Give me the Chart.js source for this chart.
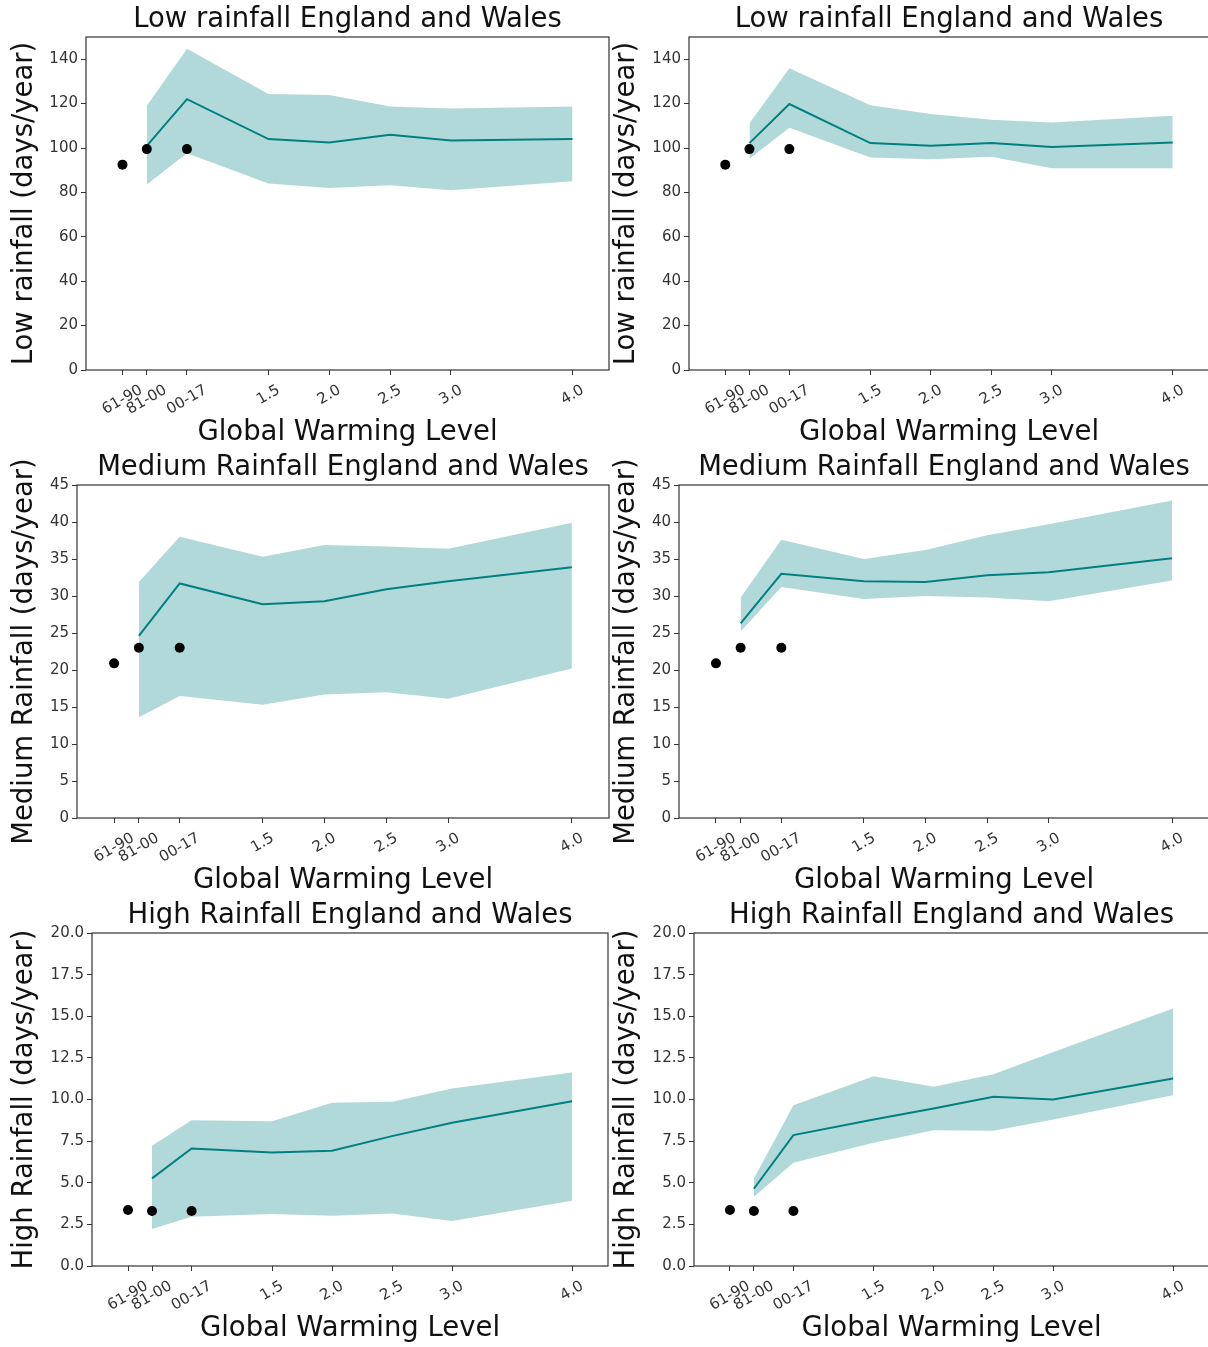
<!DOCTYPE html>
<html>
<head>
<meta charset="utf-8">
<title>Rainfall days by global warming level</title>
<script src="https://cdn.jsdelivr.net/npm/chart.js@4.4.1/dist/chart.umd.min.js"></script>
<style>
  html, body { margin: 0; padding: 0; background: #fff; overflow: hidden; }
  #figure { position: relative; width: 1208px; height: 1347px; overflow: hidden; }
  #figure canvas { position: absolute; }
</style>
</head>
<body>
<div id="figure"></div>
<script>
// -------------------- Data --------------------
const tickValues = [0.3, 0.5, 0.83, 1.5, 2.0, 2.5, 3.0, 4.0];
const tickLabels = ['61-90', '81-00', '00-17', '1.5', '2.0', '2.5', '3.0', '4.0'];
const obsX = [0.3, 0.5, 0.83];
const modelX = [0.5, 0.83, 1.5, 2.0, 2.5, 3.0, 4.0];

const lowTicks = [0, 20, 40, 60, 80, 100, 120, 140];
const medTicks = [0, 5, 10, 15, 20, 25, 30, 35, 40, 45];
const highTicks = [0, 2.5, 5, 7.5, 10, 12.5, 15, 17.5, 20];

// observed periods
const lowObs = [92.5, 99.5, 99.5];
const medObs = [20.9, 23.0, 23.0];
const highObs = [3.36, 3.3, 3.3];

// left column ensemble
const lowMeanL = [101, 122, 104, 102.5, 106, 103.4, 104];
const lowUpperL = [119, 144.7, 124.3, 123.9, 118.7, 117.8, 118.7];
const lowLowerL = [83.6, 97.6, 84, 82, 83.2, 81, 85];
const medMeanL = [24.6, 31.7, 28.9, 29.3, 30.9, 32.0, 33.9];
const medUpperL = [31.9, 38.0, 35.3, 36.9, 36.7, 36.4, 39.9];
const medLowerL = [13.6, 16.5, 15.3, 16.7, 17.0, 16.1, 20.2];
const highMeanL = [5.26, 7.06, 6.82, 6.92, 7.8, 8.6, 9.9];
const highUpperL = [7.22, 8.76, 8.7, 9.8, 9.86, 10.66, 11.62];
const highLowerL = [2.22, 2.96, 3.12, 3.02, 3.16, 2.7, 3.92];

// right column ensemble
const lowMeanR = [102.2, 119.8, 102.2, 101, 102.2, 100.4, 102.5];
const lowUpperR = [111.2, 135.9, 119.3, 115.3, 112.7, 111.5, 114.5];
const lowLowerR = [95.2, 109.1, 95.7, 94.9, 96.1, 90.9, 90.9];
const medMeanR = [26.3, 33.0, 32.0, 31.9, 32.8, 33.2, 35.1];
const medUpperR = [29.8, 37.6, 35.0, 36.2, 38.2, 39.7, 42.9];
const medLowerR = [25.2, 31.2, 29.6, 30.0, 29.8, 29.3, 32.1];
const highMeanR = [4.64, 7.86, 8.8, 9.46, 10.16, 10.0, 11.26];
const highUpperR = [5.26, 9.66, 11.4, 10.76, 11.52, 12.86, 15.46];
const highLowerR = [4.16, 6.2, 7.4, 8.16, 8.12, 8.8, 10.26];

// -------------------- Layout --------------------
const FONT = "'DejaVu Sans', sans-serif";
const TITLE_H = 37;
const XAXIS_H = 80;
const LABEL_SIZE = 27.5;
const TICK_SIZE = 15;
const TEAL = '#008080';
const BAND = 'rgba(0, 128, 128, 0.3)';

const lowTitle = 'Low rainfall England and Wales';
const medTitle = 'Medium Rainfall England and Wales';
const highTitle = 'High Rainfall England and Wales';

const panels = [
  { title: lowTitle, yTitle: 'Low rainfall (days/year)', yMax: 150, yTicks: lowTicks, digits: 0,
    obs: lowObs, mean: lowMeanL, upper: lowUpperL, lower: lowLowerL,
    area: { left: 86, right: 609, top: 37, bottom: 370 }, canvasLeft: 0 },
  { title: lowTitle, yTitle: 'Low rainfall (days/year)', yMax: 150, yTicks: lowTicks, digits: 0,
    obs: lowObs, mean: lowMeanR, upper: lowUpperR, lower: lowLowerR,
    area: { left: 689, right: 1209, top: 37, bottom: 370 }, canvasLeft: 602 },
  { title: medTitle, yTitle: 'Medium Rainfall (days/year)', yMax: 45, yTicks: medTicks, digits: 0,
    obs: medObs, mean: medMeanL, upper: medUpperL, lower: medLowerL,
    area: { left: 77, right: 609, top: 485, bottom: 818 }, canvasLeft: 0 },
  { title: medTitle, yTitle: 'Medium Rainfall (days/year)', yMax: 45, yTicks: medTicks, digits: 0,
    obs: medObs, mean: medMeanR, upper: medUpperR, lower: medLowerR,
    area: { left: 679, right: 1209, top: 485, bottom: 818 }, canvasLeft: 602 },
  { title: highTitle, yTitle: 'High Rainfall (days/year)', yMax: 20, yTicks: highTicks, digits: 1,
    obs: highObs, mean: highMeanL, upper: highUpperL, lower: highLowerL,
    area: { left: 92, right: 608, top: 933, bottom: 1266 }, canvasLeft: 0 },
  { title: highTitle, yTitle: 'High Rainfall (days/year)', yMax: 20, yTicks: highTicks, digits: 1,
    obs: highObs, mean: highMeanR, upper: highUpperR, lower: highLowerR,
    area: { left: 694, right: 1209, top: 933, bottom: 1266 }, canvasLeft: 602 },
];

// -------------------- Frame + rotated x tick labels --------------------
const framePlugin = {
  id: 'frame',
  afterDraw(chart) {
    const { ctx, chartArea } = chart;
    const xScale = chart.scales.x;
    ctx.save();
    ctx.strokeStyle = '#333';
    ctx.lineWidth = 1.2;
    ctx.strokeRect(chartArea.left, chartArea.top, chartArea.right - chartArea.left, chartArea.bottom - chartArea.top);

    // labels rotated 30 deg, centred under their tick
    const angle = 30 * Math.PI / 180;
    ctx.font = TICK_SIZE + 'px ' + FONT;
    ctx.fillStyle = '#333';
    ctx.textAlign = 'center';
    ctx.textBaseline = 'middle';
    tickValues.forEach((v, i) => {
      const text = tickLabels[i];
      const w = ctx.measureText(text).width;
      const boxH = w * Math.sin(angle) + TICK_SIZE * 1.17 * Math.cos(angle);
      const x = xScale.getPixelForValue(v);
      const y = chartArea.bottom + 11.5 + boxH / 2;
      ctx.save();
      ctx.translate(x, y);
      ctx.rotate(-angle);
      ctx.fillText(text, 0, 0);
      ctx.restore();
    });
    ctx.restore();
  }
};

function points(xs, ys) {
  return xs.map((x, i) => ({ x, y: ys[i] }));
}

panels.forEach(p => {
  const a = p.area;
  const w = a.right - p.canvasLeft + 2;
  const h = TITLE_H + (a.bottom - a.top) + XAXIS_H;
  const canvas = document.createElement('canvas');
  canvas.width = w;
  canvas.height = h;
  canvas.style.left = p.canvasLeft + 'px';
  canvas.style.top = (a.top - TITLE_H) + 'px';
  canvas.style.width = w + 'px';
  canvas.style.height = h + 'px';
  document.getElementById('figure').appendChild(canvas);

  new Chart(canvas, {
    type: 'line',
    data: {
      datasets: [
        {
          label: 'Observed',
          data: points(obsX, p.obs),
          showLine: false,
          pointRadius: 5,
          pointBackgroundColor: '#000',
          pointBorderWidth: 0,
          order: 0
        },
        {
          label: 'Ensemble mean',
          data: points(modelX, p.mean),
          borderColor: TEAL,
          borderWidth: 2,
          pointRadius: 0,
          fill: false,
          order: 1
        },
        {
          label: 'Upper',
          data: points(modelX, p.upper),
          borderWidth: 0,
          pointRadius: 0,
          backgroundColor: BAND,
          fill: '+1',
          order: 2
        },
        {
          label: 'Lower',
          data: points(modelX, p.lower),
          borderWidth: 0,
          pointRadius: 0,
          fill: false,
          order: 3
        }
      ]
    },
    options: {
      responsive: false,
      animation: false,
      events: [],
      layout: { autoPadding: false, padding: { right: 2 } },
      plugins: {
        legend: { display: false },
        tooltip: { enabled: false },
        title: {
          display: true,
          text: p.title,
          fullSize: false,
          color: '#111',
          font: { family: FONT, size: LABEL_SIZE, weight: 'normal' },
          padding: { top: 3.5, bottom: 0.5 }
        }
      },
      scales: {
        x: {
          type: 'linear',
          min: 0,
          max: 4.3,
          afterBuildTicks: s => { s.ticks = tickValues.map(v => ({ value: v })); },
          afterFit: s => { s.height = XAXIS_H; },
          ticks: { display: false },
          grid: { drawOnChartArea: false, drawTicks: true, tickLength: 5, color: '#333' },
          border: { display: false },
          title: {
            display: true,
            text: 'Global Warming Level',
            color: '#111',
            font: { family: FONT, size: LABEL_SIZE },
            padding: { top: 0, bottom: 1 }
          }
        },
        y: {
          min: 0,
          max: p.yMax,
          afterBuildTicks: s => { s.ticks = p.yTicks.map(v => ({ value: v })); },
          afterFit: s => { s.width = a.left - p.canvasLeft; },
          ticks: {
            color: '#333',
            font: { family: FONT, size: TICK_SIZE },
            padding: 3,
            callback: v => v.toFixed(p.digits)
          },
          grid: { drawOnChartArea: false, drawTicks: true, tickLength: 5, color: '#333' },
          border: { display: false },
          title: {
            display: true,
            text: p.yTitle,
            color: '#111',
            font: { family: FONT, size: LABEL_SIZE },
            padding: { top: 8, bottom: 0 }
          }
        }
      }
    },
    plugins: [framePlugin]
  });
});
</script>
</body>
</html>
